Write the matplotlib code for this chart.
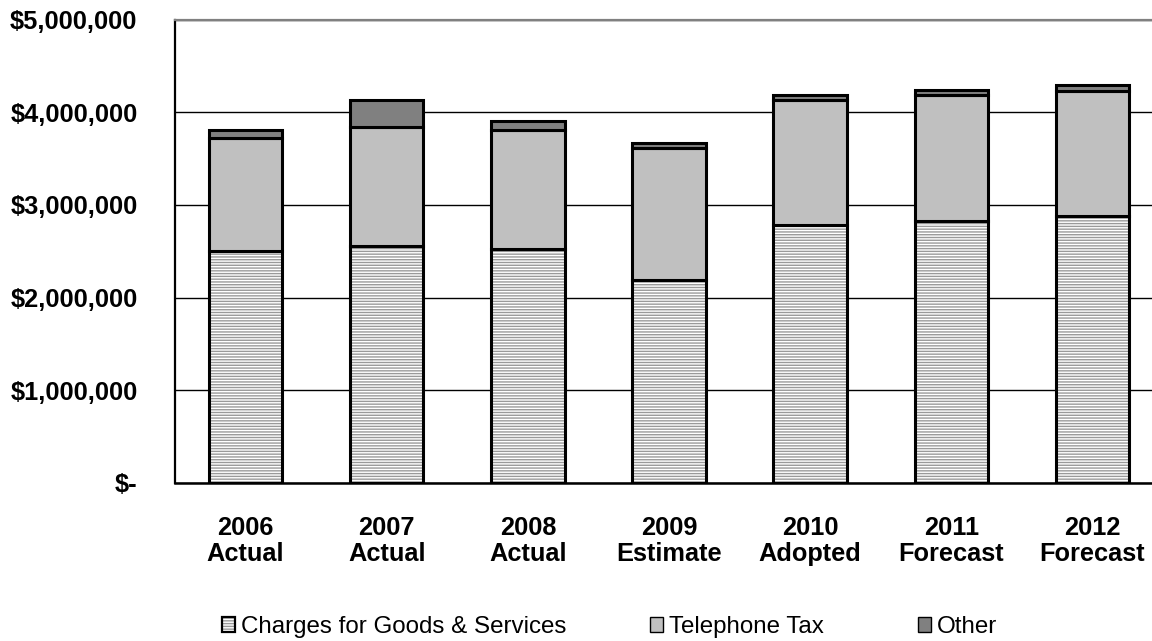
import matplotlib
matplotlib.use("Agg")
import matplotlib.pyplot as plt
from matplotlib.patches import Patch
from matplotlib.legend_handler import HandlerTuple
from matplotlib.ticker import FuncFormatter
import numpy as np

plt.rcParams['font.family'] = ['Liberation Sans', 'DejaVu Sans']
plt.rcParams['hatch.linewidth'] = 1.0

categories = ["2006\nActual", "2007\nActual", "2008\nActual", "2009\nEstimate",
              "2010\nAdopted", "2011\nForecast", "2012\nForecast"]
charges = [2505000, 2560000, 2520000, 2185000, 2780000, 2826000, 2880000]
telephone_tax = [1221000, 1280000, 1290000, 1429000, 1350000, 1364000, 1350000]
other = [79000, 290000, 100000, 56000, 60000, 50000, 60000]
y_ticks = [0, 1000000, 2000000, 3000000, 4000000, 5000000]
series_names = ["Charges for Goods & Services", "Telephone Tax", "Other"]

fig = plt.figure(figsize=(11.52, 6.41), dpi=100)
ax = fig.add_axes([175 / 1152, 158 / 641, 988 / 1152, 463.4 / 641])

x = np.arange(len(categories))
w = 0.52
edge_lw = 2.2
charges = np.array(charges)
telephone_tax = np.array(telephone_tax)
other = np.array(other)

# Charges: grey horizontal hatching on white, then a black outline on top
ax.bar(x, charges, w, color="white", edgecolor="#9a9a9a",
       hatch="------", linewidth=0, zorder=3)
ax.bar(x, charges, w, fill=False, edgecolor="black",
       linewidth=edge_lw, zorder=4)
ax.bar(x, telephone_tax, w, bottom=charges, color="#c0c0c0",
       edgecolor="black", linewidth=edge_lw, zorder=4)
ax.bar(x, other, w, bottom=charges + telephone_tax, color="#808080",
       edgecolor="black", linewidth=edge_lw, zorder=4)

ax.set_xlim(-0.5, len(categories) - 0.5)
ax.set_ylim(0, 5000000)
ax.set_yticks(y_ticks)


def money(v, pos):
    if v == 0:
        return "$-"
    return "${:,.0f}".format(v)


ax.yaxis.set_major_formatter(FuncFormatter(money))
ax.set_xticks(x)
ax.set_xticklabels(categories, fontsize=18.3, fontweight="bold", linespacing=1.08)
for lbl in ax.get_yticklabels():
    lbl.set_fontsize(18.3)
    lbl.set_fontweight("bold")
ax.tick_params(axis="y", length=0, pad=27)
ax.tick_params(axis="x", length=0, pad=24)

ax.grid(axis="y", color="black", linewidth=1.0, zorder=1)
ax.set_axisbelow(True)
ax.spines["right"].set_visible(False)
ax.spines["top"].set_color("#808080")
ax.spines["top"].set_linewidth(1.6)
ax.spines["left"].set_color("black")
ax.spines["left"].set_linewidth(1.6)
ax.spines["bottom"].set_color("black")
ax.spines["bottom"].set_linewidth(1.8)

# Legend entries, each placed at its own column start
h_charges = (Patch(facecolor="white", edgecolor="#9a9a9a", hatch="------", linewidth=0),
             Patch(fill=False, edgecolor="black", linewidth=1.6))
h_tel = Patch(facecolor="#c0c0c0", edgecolor="black", linewidth=1.0)
h_oth = Patch(facecolor="#808080", edgecolor="black", linewidth=1.0)
legend_x = [222, 650, 918]
for handle, name, lx in zip([h_charges, h_tel, h_oth], series_names, legend_x):
    fig.legend([handle], [name],
               handler_map={tuple: HandlerTuple(ndivide=1, pad=0)},
               loc="center left", bbox_to_anchor=(lx / 1152, 14 / 641),
               frameon=False, fontsize=17.4, borderpad=0,
               handlelength=0.55, handleheight=0.55, handletextpad=0.25,
               borderaxespad=0)

fig.savefig("out.png", dpi=100)
